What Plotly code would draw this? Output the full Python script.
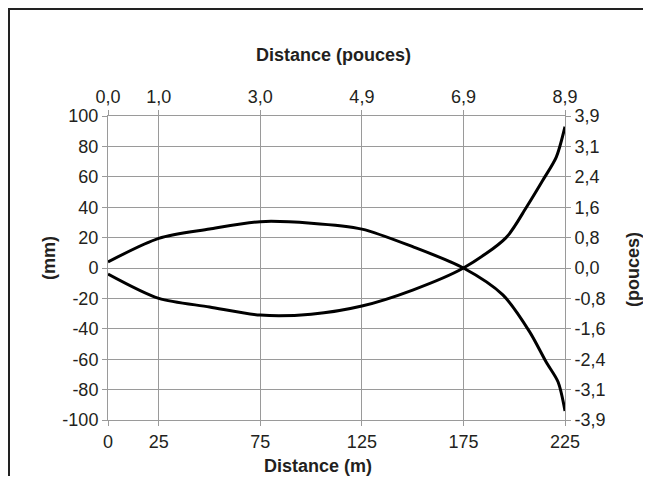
import plotly.graph_objects as go

# Data: two crossing trajectories
dist_a = [0, 25, 50, 75, 100, 125, 150, 175, 194.4, 207.6, 215.8, 221.6, 225]
val_a = [4, 19.5, 25.6, 30.5, 29.5, 25.6, 14, 0, -17.7, -42, -62, -75, -94]
dist_b = [0, 25, 50, 75, 100, 125, 150, 175, 196, 206, 214, 220.7, 225]
val_b = [-4, -20, -25.6, -31, -30.4, -25, -14.5, 0, 20, 40, 57.6, 73, 93]

x_ticks = [0, 25, 75, 125, 175, 225]
x_top_labels = ["0,0", "1,0", "3,0", "4,9", "6,9", "8,9"]
y_ticks = [-100, -80, -60, -40, -20, 0, 20, 40, 60, 80, 100]
y_right_labels = ["-3,9", "-3,1", "-2,4", "-1,6", "-0,8", "0,0", "0,8", "1,6", "2,4", "3,1", "3,9"]

# figure coordinates (page body adds an 8px margin)
W, H = 635, 468
ml, mt = 100, 108
plot_r, plot_b = 557, 412
mr, mb = W - plot_r, H - plot_b
pw, ph = plot_r - ml, plot_b - mt

def fx(px):
    return (px - ml) / pw

def fy(py):
    return (plot_b - py) / ph

FONT = "Liberation Sans, Arial, Helvetica, sans-serif"
TXT = "#231f20"
GRID = "#9a9a9a"

fig = go.Figure()
for xs, ys in [(dist_a, val_a), (dist_b, val_b)]:
    fig.add_trace(go.Scatter(x=xs, y=ys, mode="lines",
                             line=dict(color="black", width=3, shape="spline", smoothing=0.8),
                             showlegend=False, hoverinfo="skip"))
# invisible trace to activate secondary axes
fig.add_trace(go.Scatter(x=[0, 225], y=[-100, 100], xaxis="x2", yaxis="y2",
                         mode="markers", marker=dict(opacity=0), showlegend=False, hoverinfo="skip"))

axis_common = dict(showline=True, linecolor=GRID, linewidth=1, ticks="outside", ticklen=5,
                   tickcolor=GRID, zeroline=False,
                   tickfont=dict(family=FONT, size=18, color=TXT), fixedrange=True)

fig.update_layout(
    width=W, height=H,
    margin=dict(l=ml, r=mr, t=mt, b=mb, pad=0),
    paper_bgcolor="white", plot_bgcolor="white",
    xaxis=dict(range=[0, 225], tickmode="array", tickvals=x_ticks,
               ticktext=[str(v) for v in x_ticks], showgrid=True, gridcolor=GRID, gridwidth=1,
               **axis_common),
    yaxis=dict(range=[-100, 100], tickmode="array", tickvals=y_ticks,
               ticktext=[str(v) for v in y_ticks], showgrid=True, gridcolor=GRID, gridwidth=1,
               **axis_common),
    xaxis2=dict(range=[0, 225], overlaying="x", side="top", tickmode="array",
                tickvals=x_ticks, ticktext=x_top_labels, showgrid=False, **axis_common),
    yaxis2=dict(range=[-100, 100], overlaying="y", side="right", tickmode="array",
                tickvals=y_ticks, ticktext=y_right_labels, showgrid=False, **axis_common),
)

title_font = dict(family=FONT, size=18, color=TXT)
fig.add_annotation(text="<b>Distance (pouces)</b>", xref="paper", yref="paper",
                   x=fx(325), y=fy(47), showarrow=False,
                   font=title_font, xanchor="center", yanchor="middle")
fig.add_annotation(text="<b>Distance (m)</b>", xref="paper", yref="paper",
                   x=fx(310), y=fy(458), showarrow=False,
                   font=title_font, xanchor="center", yanchor="middle")
fig.add_annotation(text="<b>(mm)</b>", xref="paper", yref="paper",
                   x=fx(41), y=fy(250), showarrow=False,
                   font=title_font, textangle=-90, xanchor="center", yanchor="middle")
fig.add_annotation(text="<b>(pouces)</b>", xref="paper", yref="paper",
                   x=fx(625), y=fy(262), showarrow=False,
                   font=title_font, textangle=-90, xanchor="center", yanchor="middle")

# partial frame (left and top edges)
fig.add_shape(type="line", xref="paper", yref="paper",
              x0=fx(1), x1=fx(1), y0=fy(1), y1=fy(H),
              line=dict(color="#222222", width=2))
fig.add_shape(type="line", xref="paper", yref="paper",
              x0=fx(0), x1=fx(W), y0=fy(1), y1=fy(1),
              line=dict(color="#222222", width=2))

fig.write_html("out.html")
